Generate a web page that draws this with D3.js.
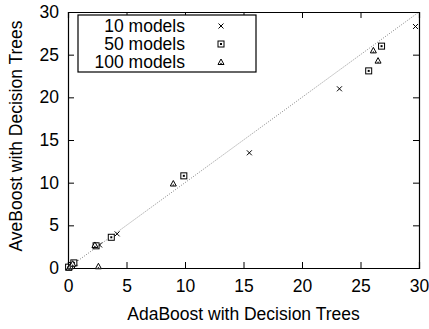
<!DOCTYPE html>
<html>
<head>
<meta charset="utf-8">
<script src="https://cdn.jsdelivr.net/npm/d3@7"></script>
<style>
  body { margin: 0; background: #fff; }
  svg text { font-family: "Liberation Sans", Arial, sans-serif; }
</style>
</head>
<body>
<div id="chart"></div>
<script>
// values: [AdaBoost, AveBoost]
const models10 = [[0.1, 0.1], [0.2, 0.3], [0.6, 0.6], [2.7, 2.7], [4.2, 4.0], [15.5, 13.5], [23.2, 21.0], [29.7, 28.3]];
const models50 = [[0.05, 0.1], [0.3, 0.3], [0.5, 0.6], [2.4, 2.6], [3.7, 3.6], [9.9, 10.8], [25.7, 23.1], [26.8, 26.0]];
const models100 = [[0.1, 0.05], [0.2, 0.2], [0.4, 0.5], [2.3, 2.7], [2.6, 0.2], [9.0, 9.9], [26.1, 25.5], [26.5, 24.3]];
const seriesNames = ["10 models", "50 models", "100 models"];
const ticks = [0, 5, 10, 15, 20, 25, 30];

const W = 429, H = 329;
const margin = { top: 12, right: 10, bottom: 61, left: 68 };
const width = W - margin.left - margin.right;
const height = H - margin.top - margin.bottom;
const fs = 17.5;

const svg = d3.select("#chart").append("svg")
  .attr("width", W).attr("height", H);
const g = svg.append("g").attr("transform", `translate(${margin.left},${margin.top})`);

const x = d3.scaleLinear().domain([0, 30]).range([0, width]);
const y = d3.scaleLinear().domain([0, 30]).range([height, 0]);

// diagonal
g.append("line")
  .attr("x1", x(0)).attr("y1", y(0)).attr("x2", x(30)).attr("y2", y(30))
  .attr("stroke", "#666").attr("stroke-width", 0.8).attr("stroke-dasharray", "1,1.5");

// axes with inward ticks, mirrored
const tickLen = 6;
g.append("g").attr("transform", `translate(0,${height})`)
  .call(d3.axisBottom(x).tickValues(ticks).tickSize(-tickLen).tickPadding(12))
  .call(a => a.selectAll("text").attr("font-size", fs).attr("fill", "#000"));
g.append("g")
  .call(d3.axisLeft(y).tickValues(ticks).tickSize(-tickLen).tickPadding(9))
  .call(a => a.selectAll("text").attr("font-size", fs).attr("fill", "#000"));
g.append("g")
  .call(d3.axisTop(x).tickValues(ticks).tickSize(-tickLen).tickFormat(""));
g.append("g").attr("transform", `translate(${width},0)`)
  .call(d3.axisRight(y).tickValues(ticks).tickSize(-tickLen).tickFormat(""));
g.selectAll(".domain").attr("stroke", "#000").attr("stroke-width", 1.2);
g.selectAll(".tick line").attr("stroke", "#000");
g.selectAll(".tick").filter(d => d === 0 || d === 30).select("line").remove();

// markers
const drawMarker = (sel, type) => {
  if (type === 0) {
    sel.append("path").attr("d", "M-2.5,-2.5L2.5,2.5M-2.5,2.5L2.5,-2.5")
      .attr("stroke", "#000").attr("stroke-width", 1).attr("fill", "none");
  } else if (type === 1) {
    sel.append("rect").attr("x", -3).attr("y", -3).attr("width", 6).attr("height", 6)
      .attr("stroke", "#000").attr("stroke-width", 1).attr("fill", "#fff");
    sel.append("rect").attr("x", -1).attr("y", -1).attr("width", 2).attr("height", 2)
      .attr("fill", "#000");
  } else {
    sel.append("path").attr("d", "M0,-3L3,2.5L-3,2.5Z")
      .attr("stroke", "#000").attr("stroke-width", 1).attr("fill", "#fff");
    sel.append("path").attr("d", "M0,0.5L1,2L-1,2Z").attr("fill", "#000");
  }
};

[models10, models50, models100].forEach((data, i) => {
  g.selectAll(".pt" + i).data(data).join("g")
    .attr("class", "pt" + i)
    .attr("transform", d => `translate(${x(d[0])},${y(d[1])})`)
    .each(function () { drawMarker(d3.select(this), i); });
});

// legend
const legend = g.append("g").attr("transform", "translate(10,3)");
legend.append("rect").attr("x", 0).attr("y", 0).attr("width", 178).attr("height", 57)
  .attr("fill", "#fff").attr("stroke", "#000").attr("stroke-width", 1.2);
seriesNames.forEach((name, i) => {
  legend.append("text").attr("x", 107).attr("y", 11 + i * 18)
    .attr("text-anchor", "end").attr("dominant-baseline", "central")
    .attr("font-size", fs).text(name);
  const m = legend.append("g").attr("transform", `translate(143,${11 + i * 18})`);
  drawMarker(m, i);
});

// axis titles
svg.append("text").attr("x", margin.left + width / 2).attr("y", 320)
  .attr("text-anchor", "middle").attr("font-size", fs).text("AdaBoost with Decision Trees");
svg.append("text").attr("transform", `translate(22,${margin.top + height / 2 - 4}) rotate(-90)`)
  .attr("text-anchor", "middle").attr("font-size", fs).text("AveBoost with Decision Trees");
</script>
</body>
</html>
